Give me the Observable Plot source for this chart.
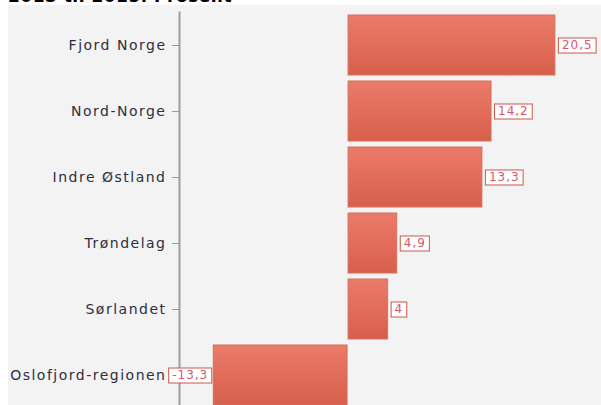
<!DOCTYPE html>
<html>
<head>
<meta charset="utf-8">
<script src="https://cdn.jsdelivr.net/npm/d3@7"></script>
<script src="https://cdn.jsdelivr.net/npm/@observablehq/plot@0.6"></script>
<style>
  html, body { margin: 0; padding: 0; background: #ffffff; overflow: hidden; }
  #wrap { position: relative; width: 601px; height: 405px; overflow: hidden; }
  #panel { position: absolute; left: 8px; top: 5px; right: 0; bottom: 0; background: #f3f3f3; }
  #title { position: absolute; left: 8px; top: -12px; font: bold 17px "DejaVu Sans", sans-serif; letter-spacing: 0.5px; color: #000; white-space: nowrap; line-height: 17px; }
  #chart { position: absolute; left: 0; top: 0; }
  g.ylab text { letter-spacing: 1.5px; }
  g.vlab text { letter-spacing: 1px; }
</style>
</head>
<body>
<div id="wrap">
  <div id="panel"></div>
  <div id="title">2013 til 2015. Prosent</div>
  <div id="chart"></div>
</div>
<script>
const regions = ["Fjord Norge", "Nord-Norge", "Indre Østland", "Trøndelag", "Sørlandet", "Oslofjord-regionen"];
const values = [20.5, 14.2, 13.3, 4.9, 4, -13.3];
const xDomain = [-16.63, 25];

const data = regions.map((r, i) => ({region: r, value: values[i], label: String(values[i]).replace(".", ",")}));

const plot = Plot.plot({
  width: 601,
  height: 405,
  marginLeft: 179,
  marginRight: 0,
  marginTop: 12,
  marginBottom: 0,
  style: {background: "transparent", fontFamily: "DejaVu Sans, sans-serif", overflow: "visible"},
  x: {domain: xDomain, axis: null},
  y: {domain: regions, range: [12, 408], paddingInner: 6 / 66, paddingOuter: 3 / 66, label: null},
  marks: [
    Plot.axisY({tickSize: 7, tickPadding: 6, fontSize: 14, fill: "#2e2e42", stroke: "#9a9a9a", className: "ylab"}),
    Plot.frame({anchor: "left", stroke: "#9d9d9d", strokeWidth: 2}),
    Plot.barX(data, {x1: 0, x2: "value", y: "region", fill: "url(#barGrad)", stroke: "#d3705f", strokeWidth: 1, insetLeft: 0.5, insetRight: 0.5}),
    Plot.text(data.filter(d => d.value >= 0), {x: "value", y: "region", text: "label", textAnchor: "start", dx: 6, fontSize: 12, fill: "#d8566e", className: "vlab"}),
    Plot.text(data.filter(d => d.value < 0), {x: "value", y: "region", text: "label", textAnchor: "end", dx: -5, fontSize: 12, fill: "#d8566e", className: "vlab"})
  ]
});

const defs = d3.select(plot).insert("defs", ":first-child");
const g = defs.append("linearGradient").attr("id", "barGrad").attr("x1", 0).attr("y1", 0).attr("x2", 0).attr("y2", 1);
g.append("stop").attr("offset", "0%").attr("stop-color", "#eb7b69");
g.append("stop").attr("offset", "100%").attr("stop-color", "#d75f4b");

document.getElementById("chart").appendChild(plot);

// white boxes with red border behind the value labels
d3.select(plot).selectAll("g.vlab text").each(function() {
  const bb = this.getBBox();
  const t = this.getAttribute("transform");
  d3.select(this.parentNode).insert("rect", () => this)
    .attr("transform", t)
    .attr("x", bb.x - 4 + 0.5)
    .attr("y", -7.5)
    .attr("width", bb.width + 7)
    .attr("height", 15)
    .attr("fill", "#ffffff")
    .attr("stroke", "#c9584b")
    .attr("stroke-width", 1);
});
</script>
</body>
</html>
